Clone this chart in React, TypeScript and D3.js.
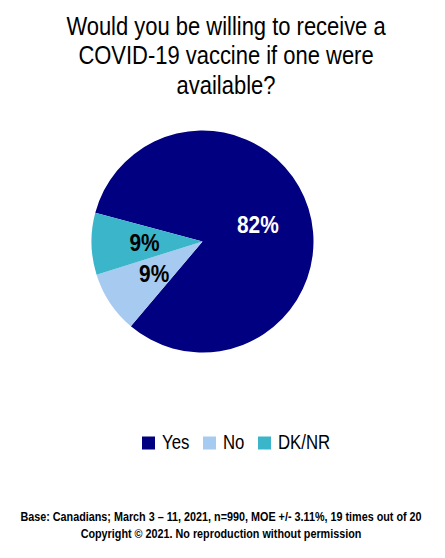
import React from "react";
import * as d3 from "d3";

const titleLines = ["Would you be willing to receive a", "COVID-19 vaccine if one were", "available?"];
const categories = ["Yes", "No", "DK/NR"];
const values = [82, 9, 9];
const colors = ["#000080", "#A6CAF0", "#3BB5C9"];
const labelColors = ["#FFFFFF", "#000000", "#000000"];
const footerLines = [
  "Base: Canadians; March 3 \u2013 11, 2021, n=990, MOE +/- 3.11%, 19 times out of 20",
  "Copyright \u00A9 2021. No reproduction without permission",
];

const W = 445;
const H = 558;
const cx = 202.5;
const cy = 241.5;
const R = 111;
const SX = 0.845;

export default function App() {
  const pie = d3
    .pie<number>()
    .sort(null)
    .value((d) => d)
    .startAngle((-75 * Math.PI) / 180)
    .endAngle((285 * Math.PI) / 180);
  const arcs = pie(values);
  const arc = d3.arc<d3.PieArcDatum<number>>().innerRadius(0).outerRadius(R);
  const labelArc = d3.arc<d3.PieArcDatum<number>>().innerRadius(58).outerRadius(58);

  const legendX = d3.scaleOrdinal<string, number>().domain(categories).range([142, 203, 258]);

  return (
    <svg
      width={W}
      height={H}
      style={{ position: "absolute", left: 0, top: 0, background: "#fff" }}
      fontFamily="'Liberation Sans', Arial, sans-serif"
    >
      <rect width={W} height={H} fill="#fff" />
      {titleLines.map((t, i) => (
        <text
          key={i}
          transform={`translate(226,${34.5 + i * 29.6}) scale(${SX},1)`}
          textAnchor="middle"
          fontSize={26}
          fill="#000"
        >
          {t}
        </text>
      ))}
      <g transform={`translate(${cx},${cy})`}>
        {arcs.map((a, i) => (
          <path key={i} d={arc(a) || ""} fill={colors[i]} />
        ))}
        {arcs.map((a, i) => {
          const [x, y] = labelArc.centroid(a);
          return (
            <text
              key={"l" + i}
              transform={`translate(${x},${y}) scale(0.87,1)`}
              dy="0.36em"
              textAnchor="middle"
              fontSize={24}
              fontWeight="bold"
              fill={labelColors[i]}
            >
              {values[i]}%
            </text>
          );
        })}
      </g>
      {categories.map((c, i) => (
        <g key={c}>
          <rect x={legendX(c)} y={436.5} width={13} height={13} fill={colors[i]} />
          <text transform={`translate(${legendX(c) + 20},449) scale(0.86,1)`} fontSize={19.5} fill="#000">
            {c}
          </text>
        </g>
      ))}
      {footerLines.map((t, i) => (
        <text
          key={"f" + i}
          transform={`translate(221,${520.5 + i * 17}) scale(0.9,1)`}
          textAnchor="middle"
          fontSize={12}
          fontWeight="bold"
          fontFamily="'Liberation Sans Narrow', 'Arial Narrow', 'Liberation Sans', sans-serif"
          fill="#000"
        >
          {t}
        </text>
      ))}
    </svg>
  );
}
